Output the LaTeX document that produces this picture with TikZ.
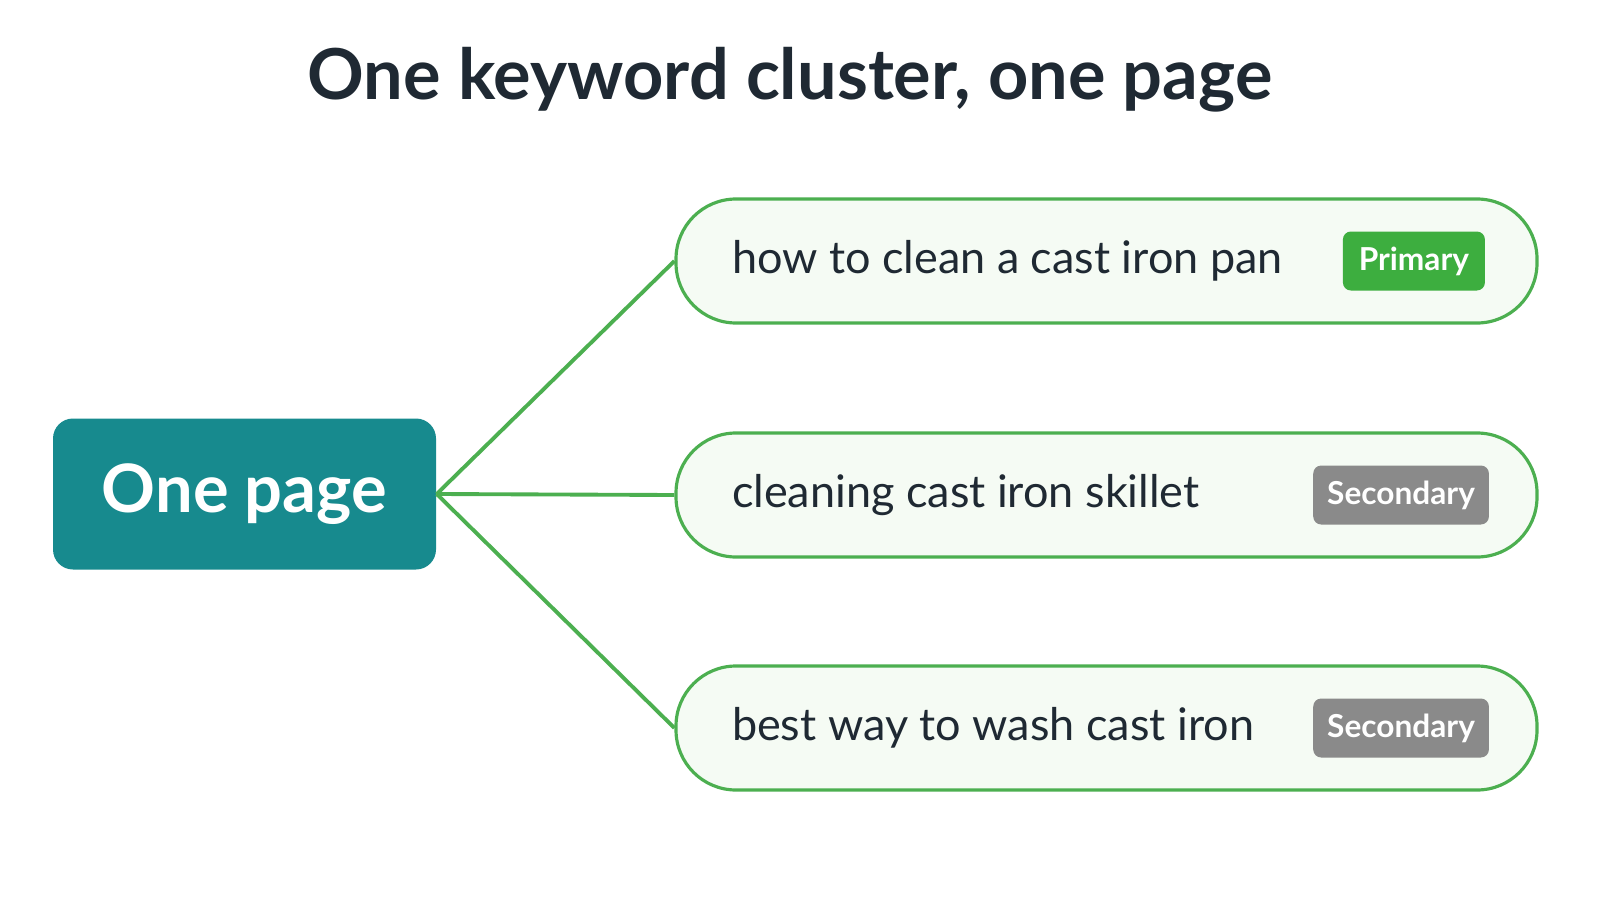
\documentclass[tikz,border=0pt]{standalone}
\usepackage{fontspec}
\setmainfont{Lato}
\usetikzlibrary{positioning}
\definecolor{teal}{HTML}{178A8E}
\definecolor{kwgreen}{HTML}{4CAF50}
\definecolor{kwfill}{HTML}{F5FBF4}
\definecolor{badgegreen}{HTML}{3DAE3F}
\definecolor{badgegray}{HTML}{8A8A8A}
\definecolor{ink}{HTML}{1F2933}
\begin{document}
\begin{tikzpicture}[
  page/.style={rectangle, rounded corners=0.2cm, fill=teal, text=white, minimum width=3.83cm, minimum height=1.51cm, font=\fontsize{19}{22}\selectfont\bfseries},
  keyword/.style={rectangle, rounded corners=0.6cm, draw=kwgreen, line width=0.9pt, fill=kwfill, minimum width=8.61cm, minimum height=1.24cm, inner xsep=0.56cm, text width=7.49cm, align=flush left, text=ink, font=\fontsize{12.8}{15}\selectfont},
  badge/.style={rectangle, rounded corners=0.08cm, text=white, minimum height=0.59cm, inner xsep=0.14cm, font=\fontsize{9}{10}\selectfont\bfseries},
  link/.style={draw=kwgreen, line width=1.1pt}
]
\useasboundingbox (0,0) rectangle (16,9);
\node[text=ink, font=\fontsize{20}{24}\selectfont\bfseries] (title) at (7.9,8.2) {One keyword cluster, one page};
\node[page] (page) at (2.445,4.06) {One page};
\node[keyword] (k1) at (11.065,6.39) {how to clean a cast iron pan};
\node[keyword] (k2) at (11.065,4.05) {cleaning cast iron skillet};
\node[keyword] (k3) at (11.065,1.72) {best way to wash cast iron};
\node[badge, fill=badgegreen, left=0.53cm of k1.east, anchor=east, minimum width=1.42cm] (b1) {Primary};
\node[badge, fill=badgegray, left=0.49cm of k2.east, anchor=east, minimum width=1.66cm] (b2) {Secondary};
\node[badge, fill=badgegray, left=0.49cm of k3.east, anchor=east, minimum width=1.64cm] (b3) {Secondary};
\draw[link] (page.east) -- (k1.west);
\draw[link] (page.east) -- (k2.west);
\draw[link] (page.east) -- (k3.west);
\end{tikzpicture}
\end{document}
